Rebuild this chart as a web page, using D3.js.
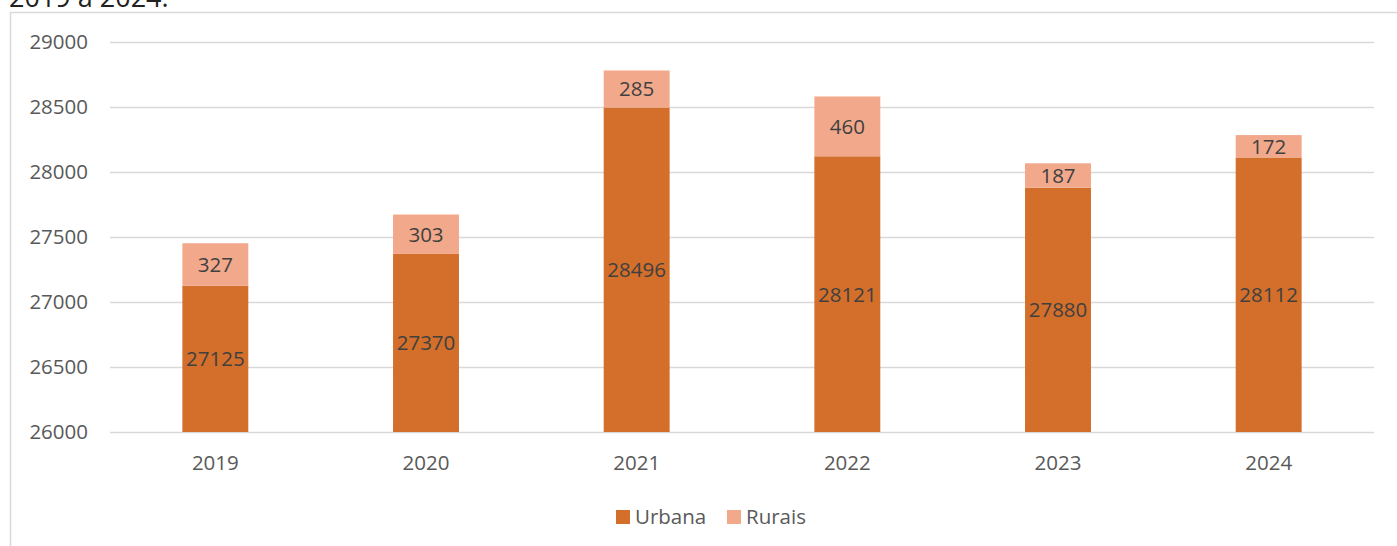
<!DOCTYPE html>
<html>
<head>
<meta charset="utf-8">
<script src="https://cdn.jsdelivr.net/npm/d3@7"></script>
<style>
  body { margin: 0; background: #fff; }
  text { font-family: "Open Sans", "Noto Sans", sans-serif; }
</style>
</head>
<body>
<div id="graph"></div>
<script>
// data
var years = ["2019", "2020", "2021", "2022", "2023", "2024"];
var urbana = [27125, 27370, 28496, 28121, 27880, 28112];
var rurais = [327, 303, 285, 460, 187, 172];
var yTicks = [26000, 26500, 27000, 27500, 28000, 28500, 29000];
var seriesNames = ["Urbana", "Rurais"];
var colors = ["#d36f2a", "#f2a98b"];

var W = 1397, H = 546;
var margin = {top: 42, right: 23, bottom: 114, left: 110};
var width = W - margin.left - margin.right;
var height = H - margin.top - margin.bottom;
var fontSize = "20.5px";

var svg = d3.select("#graph").append("svg")
	.attr("width", W)
	.attr("height", H);

// caption line above the chart frame (cut off at the top, as in the source)
svg.append("text")
	.attr("x", 9)
	.attr("y", 7)
	.style("font-size", "27px")
	.style("fill", "#222")
	.text("2019 a 2024.");

// chart frame
svg.append("rect")
	.attr("x", 10.5)
	.attr("y", 12.5)
	.attr("width", W + 20)
	.attr("height", H + 20)
	.style("fill", "none")
	.style("stroke", "#d9d9d9")
	.style("stroke-width", 1.5);

var g = svg.append("g")
	.attr("transform", "translate(" + margin.left + "," + margin.top + ")");

var x = d3.scaleBand()
	.domain(years)
	.range([0, width])
	.paddingInner(0.687)
	.paddingOuter(0.3435);

var y = d3.scaleLinear()
	.domain([26000, 29000])
	.range([height, 0]);

// gridlines
g.append("g")
	.selectAll("line")
	.data(yTicks)
	.enter().append("line")
	.attr("x1", 0)
	.attr("x2", width)
	.attr("y1", function(d) { return y(d) + 0.5; })
	.attr("y2", function(d) { return y(d) + 0.5; })
	.style("stroke", "#d9d9d9")
	.style("stroke-width", 1.5);

// y axis labels
var yAxis = g.append("g")
	.call(d3.axisLeft(y).tickValues(yTicks).tickSize(0).tickPadding(22).tickFormat(d3.format("d")));
yAxis.select(".domain").remove();
yAxis.selectAll("text")
	.style("font-size", fontSize)
	.style("fill", "#595959")
	.style("font-family", "'Open Sans', sans-serif");

// x axis labels
var xAxis = g.append("g")
	.attr("transform", "translate(0," + height + ")")
	.call(d3.axisBottom(x).tickSize(0).tickPadding(23));
xAxis.select(".domain").remove();
xAxis.selectAll("text")
	.style("font-size", fontSize)
	.style("fill", "#595959")
	.style("font-family", "'Open Sans', sans-serif");

// stacked bars
var rows = years.map(function(yr, i) {
	return {year: yr, urbana: urbana[i], rurais: rurais[i]};
});
var stack = d3.stack().keys(["urbana", "rurais"]);
var layers = stack(rows);

layers.forEach(function(layer, li) {
	var lg = g.append("g");
	lg.selectAll("rect")
		.data(layer)
		.enter().append("rect")
		.attr("x", function(d) { return x(d.data.year); })
		.attr("width", x.bandwidth())
		.attr("y", function(d) { return y(d[1]); })
		.attr("height", function(d) { return y(Math.max(d[0], 26000)) - y(d[1]); })
		.style("fill", colors[li]);

	lg.selectAll("text")
		.data(layer)
		.enter().append("text")
		.attr("x", function(d) { return x(d.data.year) + x.bandwidth() / 2; })
		.attr("y", function(d) { return (y(Math.max(d[0], 26000)) + y(d[1])) / 2; })
		.attr("text-anchor", "middle")
		.attr("dy", "0.36em")
		.style("font-size", fontSize)
		.style("fill", "#404040")
		.text(function(d) { return d[1] - d[0]; });
});

// legend
var legend = svg.append("g").attr("transform", "translate(616,517)");
var legX = [0, 111];
seriesNames.forEach(function(name, i) {
	legend.append("rect")
		.attr("x", legX[i])
		.attr("y", -7)
		.attr("width", 14)
		.attr("height", 14)
		.style("fill", colors[i]);
	legend.append("text")
		.attr("x", legX[i] + 19)
		.attr("y", 0)
		.attr("dy", "0.36em")
		.style("font-size", fontSize)
		.style("fill", "#595959")
		.text(name);
});
</script>
</body>
</html>
